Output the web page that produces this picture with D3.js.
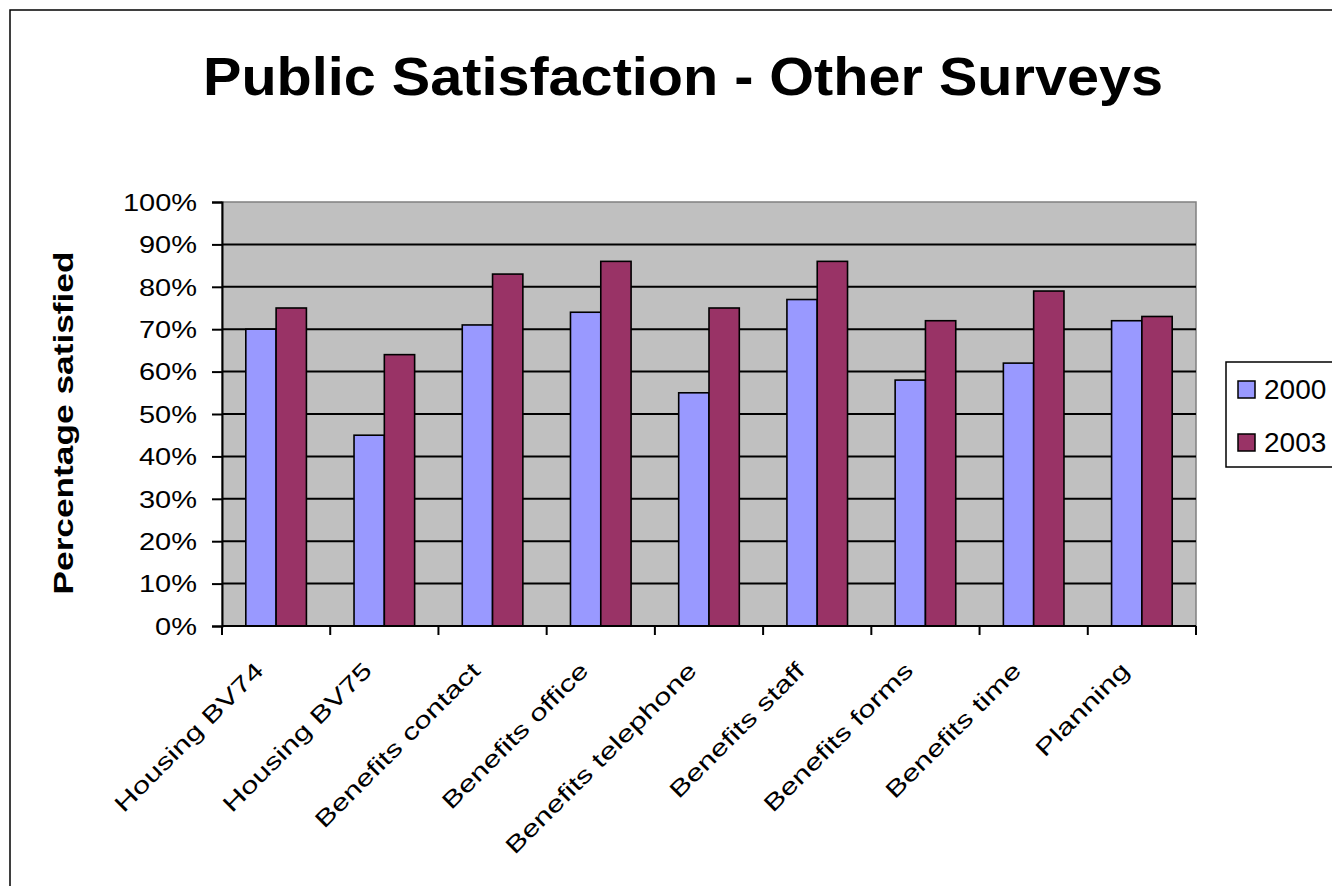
<!DOCTYPE html>
<html>
<head>
<meta charset="utf-8">
<script src="https://cdn.jsdelivr.net/npm/d3@7"></script>
<style>
  body { margin: 0; background: #fff; }
  svg { display: block; }
</style>
</head>
<body>
<div id="chart"></div>
<script>
// Survey categories and series values (fraction satisfied)
const categories = [
    "Housing BV74", "Housing BV75", "Benefits contact", "Benefits office",
    "Benefits telephone", "Benefits staff", "Benefits forms", "Benefits time", "Planning"
];
const seriesNames = ["2000", "2003"];
const values2000 = [0.70, 0.45, 0.71, 0.74, 0.55, 0.77, 0.58, 0.62, 0.72];
const values2003 = [0.75, 0.64, 0.83, 0.86, 0.75, 0.86, 0.72, 0.79, 0.73];
const yTicks = [0, 0.1, 0.2, 0.3, 0.4, 0.5, 0.6, 0.7, 0.8, 0.9, 1.0];
const colors = { "2000": "#9999FF", "2003": "#993366" };

const data = categories.map((c, i) => ({ cat: c, "2000": values2000[i], "2003": values2003[i] }));

const W = 1332, H = 886;
const plot = { left: 222, right: 1196, top: 202, bottom: 626 };

const svg = d3.select("#chart").append("svg")
    .attr("width", W).attr("height", H);

svg.append("rect").attr("width", W).attr("height", H).attr("fill", "#fff");

// outer chart frame (right and bottom edges fall outside the picture)
svg.append("rect")
    .attr("x", 10).attr("y", 10)
    .attr("width", W + 20).attr("height", H + 20)
    .attr("fill", "none").attr("stroke", "#000").attr("stroke-width", 1.5);

// widen text horizontally, the original uses a broad bitmap font
function stretch(sel, k) {
    sel.each(function () {
        const w = this.getComputedTextLength();
        d3.select(this).attr("textLength", w * k).attr("lengthAdjust", "spacingAndGlyphs");
    });
}

// title
svg.append("text")
    .attr("x", 203).attr("y", 95)
    .attr("font-family", "Liberation Sans, Arial, sans-serif")
    .attr("font-weight", "bold")
    .attr("font-size", 53)
    .attr("textLength", 960).attr("lengthAdjust", "spacingAndGlyphs")
    .text("Public Satisfaction - Other Surveys");

// scales
const x = d3.scaleBand()
    .domain(categories)
    .range([plot.left, plot.right])
    .paddingInner(0.44)
    .paddingOuter(0.22);

const xSub = d3.scaleBand()
    .domain(seriesNames)
    .range([0, x.bandwidth()]);

const y = d3.scaleLinear()
    .domain([0, 1])
    .range([plot.bottom, plot.top]);

// plot background
svg.append("rect")
    .attr("x", plot.left).attr("y", plot.top)
    .attr("width", plot.right - plot.left).attr("height", plot.bottom - plot.top)
    .attr("fill", "#C0C0C0").attr("stroke", "#808080").attr("stroke-width", 1.5);

// gridlines
svg.append("g")
    .selectAll("line")
    .data(yTicks.filter(t => t > 0 && t < 1))
    .join("line")
    .attr("x1", plot.left).attr("x2", plot.right)
    .attr("y1", d => y(d)).attr("y2", d => y(d))
    .attr("stroke", "#000").attr("stroke-width", 2);

// bars
svg.append("g")
    .selectAll("g")
    .data(data)
    .join("g")
    .attr("transform", d => `translate(${x(d.cat)},0)`)
    .selectAll("rect")
    .data(d => seriesNames.map(s => ({ key: s, value: d[s] })))
    .join("rect")
    .attr("x", d => xSub(d.key))
    .attr("y", d => y(d.value))
    .attr("width", xSub.bandwidth())
    .attr("height", d => y(0) - y(d.value))
    .attr("fill", d => colors[d.key])
    .attr("stroke", "#000").attr("stroke-width", 1.6);

// y axis
const yAxis = svg.append("g")
    .attr("transform", `translate(${plot.left},0)`)
    .call(d3.axisLeft(y).tickValues(yTicks).tickFormat(d3.format(".0%")).tickSize(10).tickPadding(15));
yAxis.selectAll("path, line").attr("stroke", "#000").attr("stroke-width", 2);
yAxis.selectAll("text")
    .attr("font-family", "Liberation Sans, Arial, sans-serif")
    .attr("font-size", 23).attr("fill", "#000")
    .attr("dy", "0.36em");
stretch(yAxis.selectAll("text"), 1.26);

// x axis: ticks sit on the category boundaries
const step = x.step();
const boundaries = d3.range(categories.length + 1).map(i => plot.left + i * step);
const xAxisLine = svg.append("g");
xAxisLine.append("line")
    .attr("x1", plot.left).attr("x2", plot.right)
    .attr("y1", plot.bottom).attr("y2", plot.bottom)
    .attr("stroke", "#000").attr("stroke-width", 2);
xAxisLine.selectAll("line.tick")
    .data(boundaries)
    .join("line").attr("class", "tick")
    .attr("x1", d => d).attr("x2", d => d)
    .attr("y1", plot.bottom).attr("y2", plot.bottom + 9)
    .attr("stroke", "#000").attr("stroke-width", 2);

const xLabels = svg.append("g")
    .selectAll("text")
    .data(categories)
    .join("text")
    .attr("transform", d => `translate(${x(d) + x.bandwidth() / 2 - 11},${plot.bottom + 46}) rotate(-45)`)
    .attr("text-anchor", "end")
    .attr("font-family", "Liberation Sans, Arial, sans-serif")
    .attr("font-size", 23)
    .text(d => d);
stretch(xLabels, 1.36);

// y axis title
svg.append("text")
    .attr("transform", "translate(73,423) rotate(-90)")
    .attr("text-anchor", "middle")
    .attr("font-family", "Liberation Sans, Arial, sans-serif")
    .attr("font-weight", "bold")
    .attr("font-size", 28)
    .attr("textLength", 343).attr("lengthAdjust", "spacingAndGlyphs")
    .text("Percentage satisfied");

// legend
const legend = svg.append("g").attr("transform", "translate(1226,362)");
legend.append("rect")
    .attr("width", 130).attr("height", 105)
    .attr("fill", "#fff").attr("stroke", "#000").attr("stroke-width", 1.5);
const items = legend.selectAll("g")
    .data(seriesNames)
    .join("g")
    .attr("transform", (d, i) => `translate(12,${19 + i * 53})`);
items.append("rect")
    .attr("width", 17).attr("height", 17)
    .attr("fill", d => colors[d])
    .attr("stroke", "#000").attr("stroke-width", 1.5);
items.append("text")
    .attr("x", 26).attr("y", 17.5)
    .attr("font-family", "Liberation Sans, Arial, sans-serif")
    .attr("font-size", 28)
    .text(d => d);
</script>
</body>
</html>
